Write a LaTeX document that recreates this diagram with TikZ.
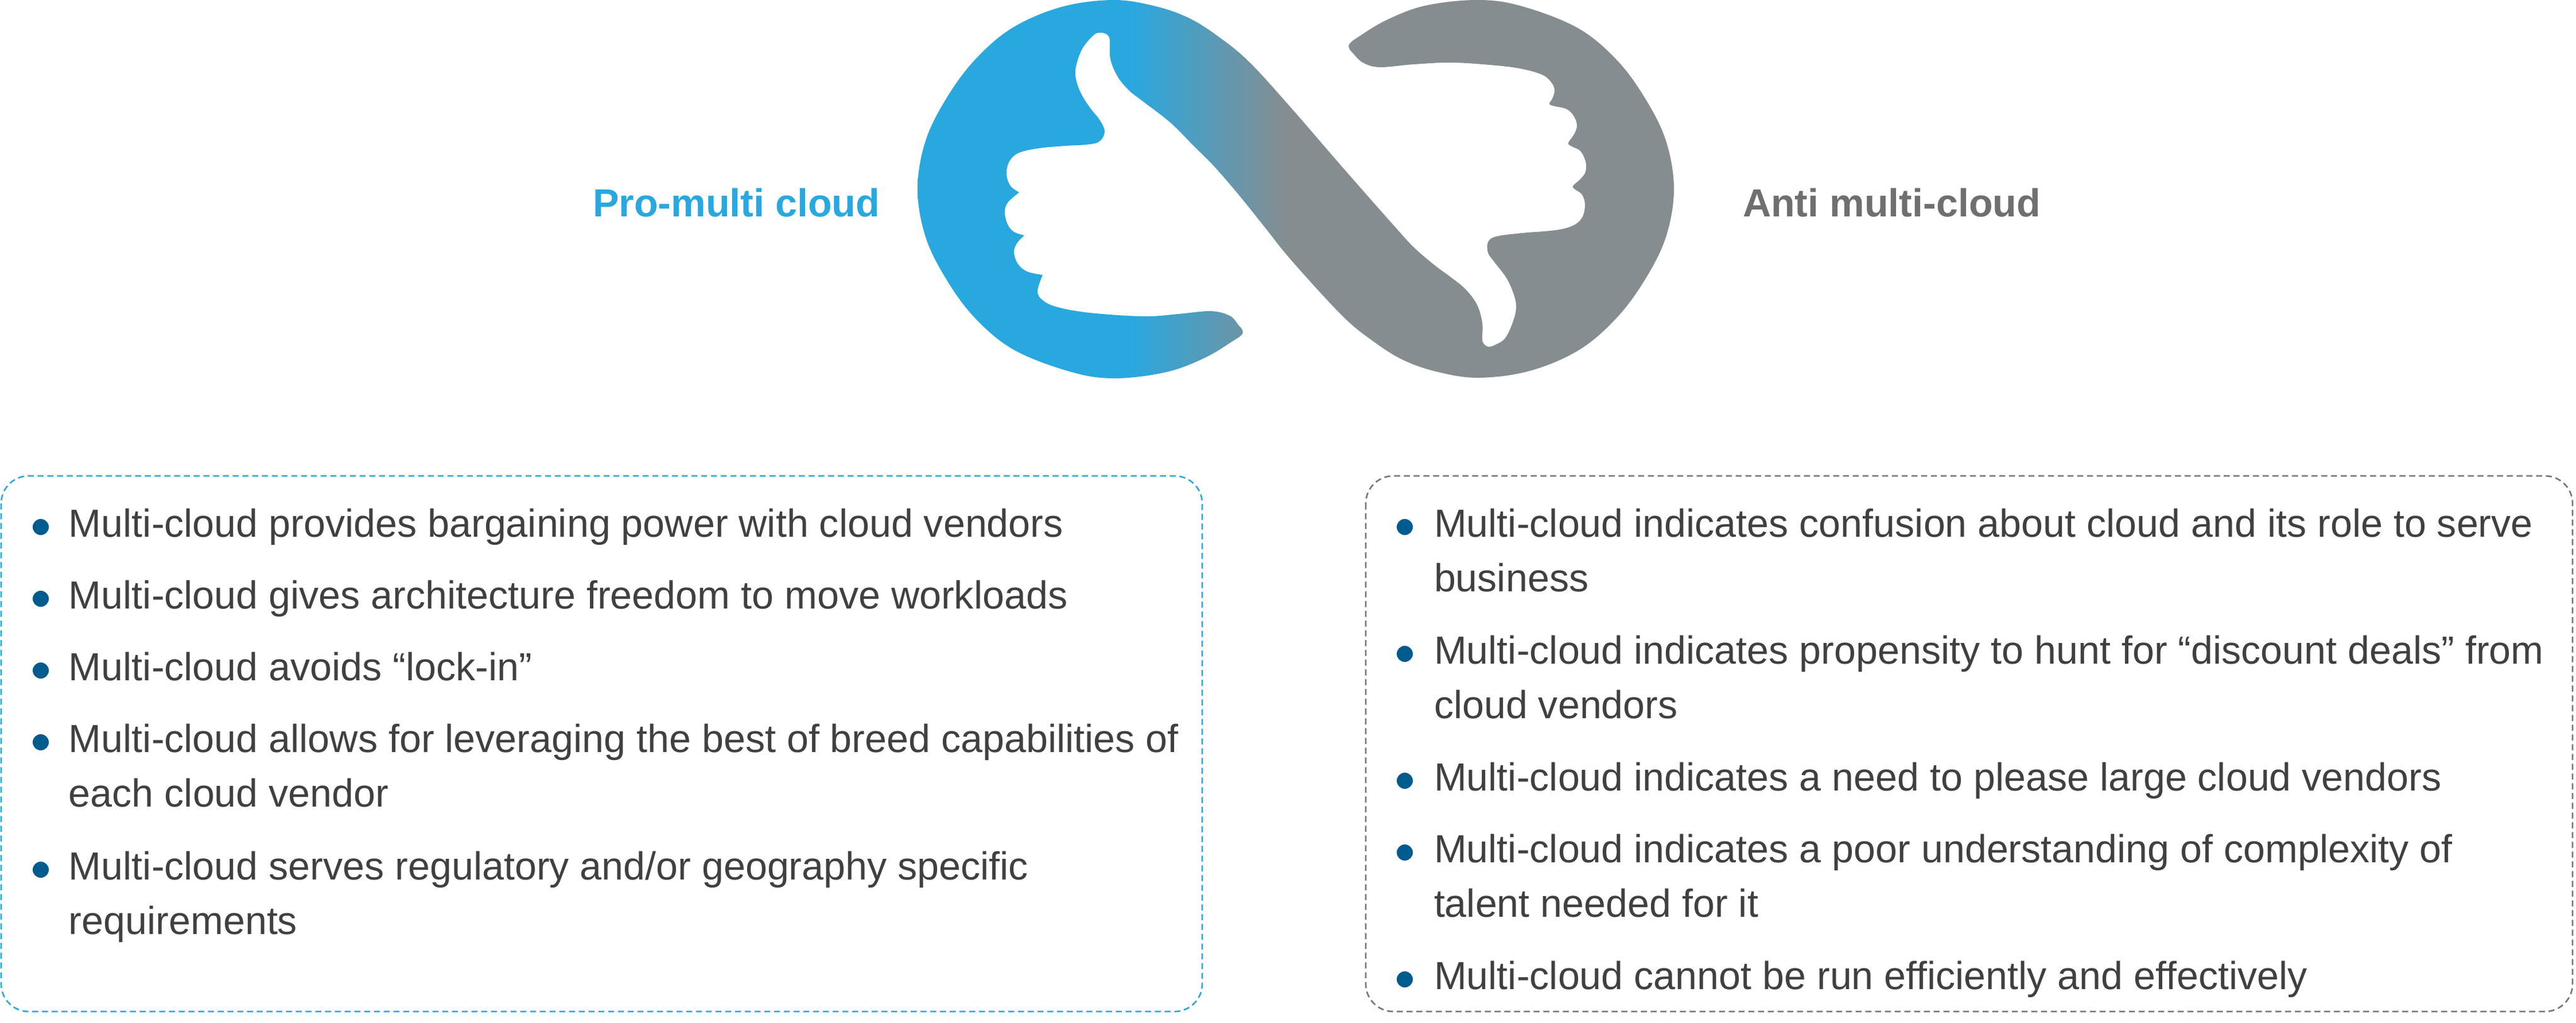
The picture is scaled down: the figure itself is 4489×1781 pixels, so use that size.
\documentclass[tikz,border=0pt]{standalone}
\usepackage{fontspec}
\setmainfont{Liberation Sans}
\definecolor{problue}{HTML}{29A8E0}
\definecolor{antigrey}{HTML}{868D90}
\definecolor{antilabel}{HTML}{6F6F6F}
\definecolor{antidash}{HTML}{777777}
\definecolor{dotblue}{HTML}{005B8E}
\definecolor{bodygrey}{HTML}{404040}
\pgfdeclarehorizontalshading{loopshade}{100bp}{color(0bp)=(problue); color(39bp)=(problue); color(49.5bp)=(antigrey); color(100bp)=(antigrey)}
\tikzset{
  listbox/.style={rounded corners=0.48cm,line width=0.027cm,dash pattern=on 0.105cm off 0.065cm},
  dot/.style={circle,fill=dotblue,minimum size=0.28cm,inner sep=0pt,outer sep=0pt},
  item/.style={anchor=base west,align=flush left,text width=22cm,inner sep=0pt,outer sep=0pt,text=bodygrey,font=\fontsize{19.4}{27.2}\selectfont},
  head/.style={anchor=base west,inner sep=0pt,outer sep=0pt,font=\fontsize{19.4}{24}\selectfont\bfseries},
}
\begin{document}
\begin{tikzpicture}[x=0.01cm,y=-0.01cm]
\useasboundingbox (0,0) rectangle (4489,1781);
% loop with the two hands cut out of it
\path[shading=loopshade]
  plot[smooth,tension=.6] coordinates {(1817,479) (1790,473) (1774,460) (1767,440) (1772,424) (1785,410)}
  -- plot[smooth,tension=.6] coordinates {(1785,410) (1767,404) (1756,391) (1751,370) (1756,353) (1776,335)}
  -- plot[smooth,tension=.6] coordinates {(1776,335) (1761,324) (1754,304) (1759,281) (1776,266) (1812,258) (1857,254) (1892,252) (1915,247) (1925,230) (1917,210) (1899,187) (1884,163) (1875,138) (1875,116) (1886,85) (1906,61) (1919,57) (1930,61) (1934,71) (1935,103) (1948,134) (1968,158) (1991,176) (2040,214) (2080,254) (2116,290) (2160,341) (2205,397) (2250,453) (2338,549) (2391,593) (2445,627) (2506,648) (2577,658) (2666,646) (2751,610) (2816,555) (2866,488) (2903,413) (2917,329) (2903,245) (2866,170) (2816,103) (2748,48) (2649,10) (2573,0) (2483,10) (2416,35) (2366,65) (2352,76) (2351,84) (2358,93) (2375,109) (2404,117) (2464,112) (2531,109) (2607,114) (2652,120) (2687,130) (2703,143) (2709,157) (2705,172) (2700,180) (2705,184) (2730,190) (2743,203) (2748,219) (2743,234) (2733,249) (2739,255) (2754,263) (2763,281) (2763,299) (2754,312) (2741,324) (2745,330) (2757,339) (2762,357) (2757,379) (2741,393) (2710,401) (2652,406) (2607,412) (2593,422) (2593,440) (2603,455) (2625,484) (2638,513) (2642,536) (2636,562) (2623,589) (2607,600) (2594,604) (2585,598) (2583,589) (2583,562) (2574,531) (2554,504) (2527,482) (2500,462) (2464,431) (2429,393) (2340,292) (2250,188) (2178,109) (2125,65) (2071,31) (2010,10) (1939,0) (1850,12) (1765,48) (1700,103) (1650,170) (1613,245) (1599,329) (1613,413) (1650,488) (1700,555) (1768,610) (1867,648) (1943,659) (2033,648) (2100,623) (2150,593) (2164,583) (2165,575) (2158,566) (2143,550) (2110,542) (2053,547) (1993,551) (1900,545) (1843,535) (1817,523) (1808,507) (1817,479)}
  -- cycle;
% headings
\node[head,text=problue] (prohead) at (1033,377) {Pro-multi cloud};
\node[head,text=antilabel] (antihead) at (3037,377) {Anti multi-cloud};
% pro box
\draw[listbox,draw=problue] (2,829) rectangle (2095,1762);
\node[dot] (prodota) at (71,918) {};
\node[item] (proa) at (120,935) {Multi-cloud provides bargaining power with cloud vendors};
\node[dot] (prodotb) at (71,1043) {};
\node[item] (prob) at (120,1060) {Multi-cloud gives architecture freedom to move workloads};
\node[dot] (prodotc) at (71,1168) {};
\node[item] (proc) at (120,1185) {Multi-cloud avoids “lock-in”};
\node[dot] (prodotd) at (71,1293) {};
\node[item] (prod) at (120,1310) {Multi-cloud allows for leveraging the best of breed capabilities of\\each cloud vendor};
\node[dot] (prodote) at (71,1515) {};
\node[item] (proe) at (120,1532) {Multi-cloud serves regulatory and/or geography specific\\requirements};
% anti box
\draw[listbox,draw=antidash] (2380,829) rectangle (4483,1762);
\node[dot] (antidota) at (2448,918) {};
\node[item] (antia) at (2499,935) {Multi-cloud indicates confusion about cloud and its role to serve\\business};
\node[dot] (antidotb) at (2448,1139) {};
\node[item] (antib) at (2499,1156) {Multi-cloud indicates propensity to hunt for “discount deals” from\\cloud vendors};
\node[dot] (antidotc) at (2448,1360) {};
\node[item] (antic) at (2499,1377) {Multi-cloud indicates a need to please large cloud vendors};
\node[dot] (antidotd) at (2448,1485) {};
\node[item] (antid) at (2499,1502) {Multi-cloud indicates a poor understanding of complexity of\\talent needed for it};
\node[dot] (antidote) at (2448,1706) {};
\node[item] (antie) at (2499,1723) {Multi-cloud cannot be run efficiently and effectively};
\end{tikzpicture}
\end{document}
